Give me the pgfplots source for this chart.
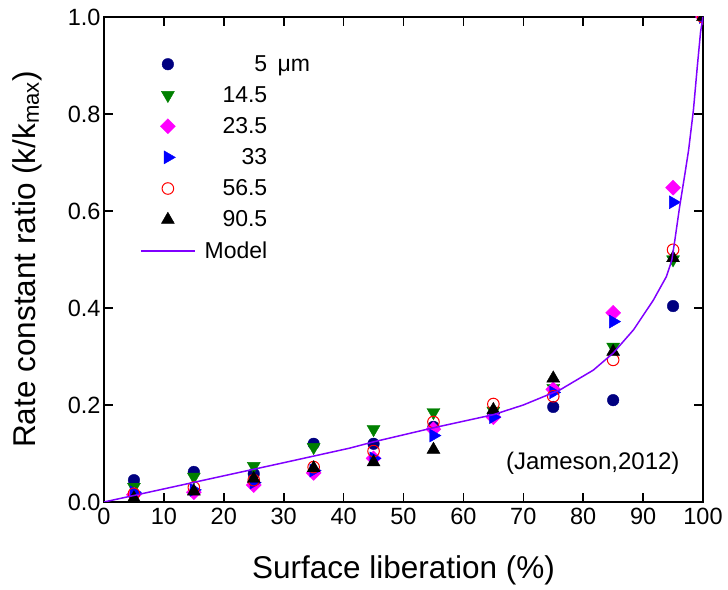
\documentclass[border=0pt]{standalone}
\usepackage{pgfplots}
\pgfplotsset{compat=1.18}
\usepackage{fontspec}
\setmainfont{Liberation Sans}
\definecolor{navyc}{RGB}{0,0,128}
\definecolor{greenc}{RGB}{0,128,0}
\definecolor{magc}{RGB}{255,0,255}
\definecolor{bluec}{RGB}{0,0,255}
\definecolor{redc}{RGB}{255,0,0}
\definecolor{modelc}{RGB}{128,0,255}
\pgfplotsset{
  legimg/.style={legend image code/.code={\draw[mark repeat=2,mark phase=2] plot coordinates {(0pt,0pt)(27pt,0pt)(54pt,0pt)};}}
}
\begin{document}
\begin{tikzpicture}
\begin{axis}[
  scale only axis, width=599pt, height=485pt,
  xmin=0, xmax=100, ymin=0, ymax=1,
  xtick={0,10,...,100}, ytick={0,0.2,0.4,0.6,0.8,1.0},
  minor tick num=0,
  xtick align=inside, ytick align=inside,
  xtick pos=both, ytick pos=both,
  major tick length=9pt,
  axis line style={line width=1.8pt},
  xtick style={black, line width=1.6pt},
  ytick style={black, line width=1.6pt},
  xticklabel={\pgfmathprintnumber[assume math mode=true]{\tick}},
  yticklabel={\pgfmathprintnumber[assume math mode=true,fixed,fixed zerofill,precision=1]{\tick}},
  tick label style={font=\fontsize{23.5}{27}\selectfont},
  xticklabel style={yshift=-3pt},
  xlabel={Surface liberation (\%)},
  ylabel={Rate constant ratio (k/k\textsubscript{max})},
  label style={font=\fontsize{31.5}{36}\selectfont},
  xlabel style={at={(axis description cs:0.5,-0.14)}, anchor=center},
  ylabel style={at={(axis description cs:-0.1286,0.5)}, anchor=center, rotate=0},
  clip marker paths=true,
  legend style={draw=none, fill=none, at={(axis cs:6,0.925)}, anchor=north west,
    font=\fontsize{23}{27}\selectfont, row sep=9.6pt, inner sep=0pt,
    cells={anchor=east},
    /tikz/every odd column/.append style={column sep=7pt}},
]
\addplot[only marks, mark=*, mark size=5.8pt, color=navyc, legimg] coordinates {
(5,0.045)(15,0.062)(25,0.058)(35,0.12)(45,0.12)(55,0.155)(65,0.18)(75,0.196)(85,0.21)(95,0.404)(100,1.0)};
\addlegendentry{5\rlap{\hspace{0.45em}μm}}
\addplot[only marks, mark=triangle*, mark size=7.5pt, mark options={rotate=180}, color=greenc, legimg] coordinates {
(5,0.031)(15,0.052)(25,0.074)(35,0.113)(45,0.15)(55,0.185)(65,0.188)(75,0.235)(85,0.32)(95,0.5)(100,1.0)};
\addlegendentry{14.5}
\addplot[only marks, mark=square*, mark size=5.3pt, mark options={rotate=45}, color=magc, legimg] coordinates {
(5,0.015)(15,0.02)(25,0.035)(35,0.06)(45,0.09)(55,0.15)(65,0.175)(75,0.232)(85,0.39)(95,0.648)(100,1.0)};
\addlegendentry{23.5}
\addplot[only marks, mark=triangle*, mark size=7.5pt, mark options={rotate=-90}, color=bluec, legimg] coordinates {
(5,0.02)(15,0.025)(25,0.04)(35,0.065)(45,0.09)(55,0.137)(65,0.175)(75,0.226)(85,0.372)(95,0.618)(100,1.0)};
\addlegendentry{33}
\addplot[only marks, mark=o, mark size=5.8pt, mark options={line width=1pt}, color=redc, legimg] coordinates {
(5,0.017)(15,0.03)(25,0.045)(35,0.072)(45,0.105)(55,0.165)(65,0.202)(75,0.218)(85,0.293)(95,0.52)(100,1.0)};
\addlegendentry{56.5}
\addplot[only marks, mark=triangle*, mark size=7.5pt, color=black, legimg] coordinates {
(5,0.008)(15,0.022)(25,0.048)(35,0.07)(45,0.082)(55,0.108)(65,0.19)(75,0.255)(85,0.31)(95,0.503)(100,1.0)};
\addlegendentry{90.5}
\addplot[no marks, color=modelc, line width=1.5pt, legimg] coordinates {
(0,0)(10,0.027)(20,0.054)(30,0.081)(41,0.111)(45,0.124)(55,0.153)(65,0.18)(70,0.2)(76.1,0.231)(81.7,0.272)(85,0.307)(88.4,0.355)(91.7,0.416)(93.9,0.465)(94.8,0.499)(95.3,0.54)(96.1,0.609)(97,0.678)(97.6,0.726)(98.4,0.808)(99.05,0.898)(99.6,0.97)(100,1.0)};
\addlegendentry{Model}
\pgfplotsinvokeforeach{10,20,...,90}{
  \draw[black, line width=1.6pt] (axis cs:#1,0) -- ++(0pt,9pt);
  \draw[black, line width=1.6pt] (axis cs:#1,1) -- ++(0pt,-9pt);
}
\pgfplotsinvokeforeach{0.2,0.4,0.6,0.8}{
  \draw[black, line width=1.6pt] (axis cs:0,#1) -- ++(9pt,0pt);
  \draw[black, line width=1.6pt] (axis cs:100,#1) -- ++(-9pt,0pt);
}
\node[font=\fontsize{24}{28}\selectfont] at (axis cs:81.6,0.08) {(Jameson,2012)};
\end{axis}
\path ([xshift=-104pt,yshift=-88pt]current axis.south west) rectangle ([xshift=25pt,yshift=17pt]current axis.north east);
\end{tikzpicture}
\end{document}
